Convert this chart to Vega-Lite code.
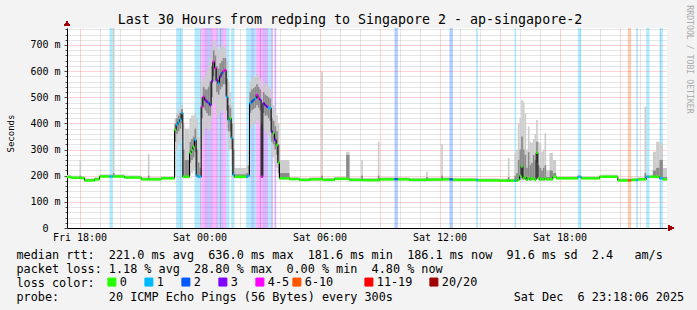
{
  "$schema": "https://vega.github.io/schema/vega-lite/v6.json",
  "width": 600,
  "height": 200,
  "autosize": {"type": "none"},
  "padding": {"left": 67, "top": 28, "right": 30, "bottom": 82},
  "background": "#f3f3f3",
  "config": {
    "view": {"stroke": null, "fill": "white"},
    "font": "DejaVu Sans Mono",
    "axis": {"labelFont": "DejaVu Sans Mono", "labelFontSize": 10, "labelColor": "black", "titleFont": "DejaVu Sans Mono", "titleFontWeight": "normal", "titleColor": "black", "domainColor": "black"}
  },
  "data": {"values": [
    {"t":"2025-12-05T17:20:00Z","t2":"2025-12-05T17:35:00Z","m":195,"lo":192,"hi":203,"q1":194,"q3":198,"L":"0"},
    {"t":"2025-12-05T17:35:00Z","t2":"2025-12-05T18:00:00Z","m":192,"lo":189,"hi":200,"q1":191,"q3":195,"L":"0"},
    {"t":"2025-12-05T18:00:00Z","t2":"2025-12-05T18:05:00Z","m":192,"lo":189,"hi":260,"q1":191,"q3":200,"L":"0"},
    {"t":"2025-12-05T18:05:00Z","t2":"2025-12-05T18:15:00Z","m":191,"lo":188,"hi":199,"q1":190,"q3":194,"L":"0"},
    {"t":"2025-12-05T18:15:00Z","t2":"2025-12-05T18:45:00Z","m":182,"lo":179,"hi":190,"q1":181,"q3":185,"L":"0"},
    {"t":"2025-12-05T18:45:00Z","t2":"2025-12-05T19:00:00Z","m":186,"lo":183,"hi":194,"q1":185,"q3":189,"L":"0"},
    {"t":"2025-12-05T19:00:00Z","t2":"2025-12-05T19:30:00Z","m":197,"lo":194,"hi":205,"q1":196,"q3":200,"L":"0"},
    {"t":"2025-12-05T19:30:00Z","t2":"2025-12-05T19:40:00Z","m":197,"lo":194,"hi":205,"q1":196,"q3":200,"L":"1"},
    {"t":"2025-12-05T19:40:00Z","t2":"2025-12-05T19:45:00Z","m":197,"lo":194,"hi":800,"q1":196,"q3":210,"L":"0"},
    {"t":"2025-12-05T19:45:00Z","t2":"2025-12-05T20:15:00Z","m":197,"lo":194,"hi":205,"q1":196,"q3":200,"L":"0"},
    {"t":"2025-12-05T20:15:00Z","t2":"2025-12-05T21:05:00Z","m":193,"lo":190,"hi":201,"q1":192,"q3":196,"L":"0"},
    {"t":"2025-12-05T21:05:00Z","t2":"2025-12-05T21:25:00Z","m":186,"lo":183,"hi":194,"q1":185,"q3":189,"L":"0"},
    {"t":"2025-12-05T21:25:00Z","t2":"2025-12-05T21:30:00Z","m":186,"lo":183,"hi":283,"q1":185,"q3":200,"L":"0"},
    {"t":"2025-12-05T21:30:00Z","t2":"2025-12-05T22:05:00Z","m":186,"lo":183,"hi":194,"q1":185,"q3":189,"L":"0"},
    {"t":"2025-12-05T22:05:00Z","t2":"2025-12-05T22:45:00Z","m":190,"lo":187,"hi":198,"q1":189,"q3":193,"L":"0"},
    {"t":"2025-12-05T22:45:00Z","t2":"2025-12-05T22:50:00Z","m":375,"lo":200,"hi":420,"q1":330,"q3":400,"L":"0"},
    {"t":"2025-12-05T22:50:00Z","t2":"2025-12-05T22:55:00Z","m":395,"lo":300,"hi":440,"q1":360,"q3":420,"L":"1"},
    {"t":"2025-12-05T22:55:00Z","t2":"2025-12-05T23:00:00Z","m":405,"lo":320,"hi":450,"q1":370,"q3":430,"L":"1"},
    {"t":"2025-12-05T23:00:00Z","t2":"2025-12-05T23:05:00Z","m":415,"lo":330,"hi":460,"q1":380,"q3":440,"L":"1"},
    {"t":"2025-12-05T23:05:00Z","t2":"2025-12-05T23:10:00Z","m":440,"lo":340,"hi":470,"q1":400,"q3":455,"L":"1"},
    {"t":"2025-12-05T23:10:00Z","t2":"2025-12-05T23:15:00Z","m":196,"lo":190,"hi":400,"q1":195,"q3":300,"L":"0"},
    {"t":"2025-12-05T23:15:00Z","t2":"2025-12-05T23:30:00Z","m":196,"lo":190,"hi":380,"q1":194,"q3":260,"L":"0"},
    {"t":"2025-12-05T23:30:00Z","t2":"2025-12-05T23:35:00Z","m":287,"lo":200,"hi":420,"q1":250,"q3":330,"L":"0"},
    {"t":"2025-12-05T23:35:00Z","t2":"2025-12-05T23:40:00Z","m":298,"lo":210,"hi":430,"q1":260,"q3":340,"L":"0"},
    {"t":"2025-12-05T23:40:00Z","t2":"2025-12-05T23:45:00Z","m":311,"lo":220,"hi":430,"q1":270,"q3":350,"L":"0"},
    {"t":"2025-12-05T23:45:00Z","t2":"2025-12-05T23:50:00Z","m":337,"lo":230,"hi":440,"q1":290,"q3":380,"L":"1"},
    {"t":"2025-12-05T23:50:00Z","t2":"2025-12-05T23:55:00Z","m":200,"lo":190,"hi":420,"q1":195,"q3":300,"L":"1"},
    {"t":"2025-12-05T23:55:00Z","t2":"2025-12-06T00:00:00Z","m":196,"lo":190,"hi":350,"q1":194,"q3":250,"L":"1"},
    {"t":"2025-12-06T00:00:00Z","t2":"2025-12-06T00:05:00Z","m":196,"lo":190,"hi":300,"q1":194,"q3":230,"L":"1"},
    {"t":"2025-12-06T00:05:00Z","t2":"2025-12-06T00:10:00Z","m":464,"lo":300,"hi":560,"q1":420,"q3":500,"L":"4-5"},
    {"t":"2025-12-06T00:10:00Z","t2":"2025-12-06T00:15:00Z","m":502,"lo":350,"hi":580,"q1":460,"q3":540,"L":"4-5"},
    {"t":"2025-12-06T00:15:00Z","t2":"2025-12-06T00:20:00Z","m":490,"lo":380,"hi":580,"q1":450,"q3":530,"L":"3"},
    {"t":"2025-12-06T00:20:00Z","t2":"2025-12-06T00:25:00Z","m":483,"lo":380,"hi":600,"q1":440,"q3":530,"L":"3"},
    {"t":"2025-12-06T00:25:00Z","t2":"2025-12-06T00:30:00Z","m":478,"lo":370,"hi":620,"q1":430,"q3":540,"L":"2"},
    {"t":"2025-12-06T00:30:00Z","t2":"2025-12-06T00:35:00Z","m":470,"lo":380,"hi":650,"q1":430,"q3":560,"L":"3"},
    {"t":"2025-12-06T00:35:00Z","t2":"2025-12-06T00:40:00Z","m":560,"lo":420,"hi":690,"q1":500,"q3":620,"L":"3"},
    {"t":"2025-12-06T00:40:00Z","t2":"2025-12-06T00:45:00Z","m":636,"lo":480,"hi":720,"q1":580,"q3":680,"L":"4-5"},
    {"t":"2025-12-06T00:45:00Z","t2":"2025-12-06T00:50:00Z","m":611,"lo":470,"hi":710,"q1":560,"q3":660,"L":"4-5"},
    {"t":"2025-12-06T00:50:00Z","t2":"2025-12-06T00:55:00Z","m":566,"lo":430,"hi":690,"q1":520,"q3":620,"L":"3"},
    {"t":"2025-12-06T00:55:00Z","t2":"2025-12-06T01:00:00Z","m":553,"lo":420,"hi":680,"q1":510,"q3":610,"L":"1"},
    {"t":"2025-12-06T01:00:00Z","t2":"2025-12-06T01:05:00Z","m":580,"lo":440,"hi":690,"q1":530,"q3":630,"L":"3"},
    {"t":"2025-12-06T01:05:00Z","t2":"2025-12-06T01:10:00Z","m":592,"lo":450,"hi":700,"q1":540,"q3":640,"L":"2"},
    {"t":"2025-12-06T01:10:00Z","t2":"2025-12-06T01:15:00Z","m":600,"lo":450,"hi":700,"q1":550,"q3":650,"L":"4-5"},
    {"t":"2025-12-06T01:15:00Z","t2":"2025-12-06T01:20:00Z","m":604,"lo":440,"hi":690,"q1":550,"q3":650,"L":"4-5"},
    {"t":"2025-12-06T01:20:00Z","t2":"2025-12-06T01:25:00Z","m":502,"lo":380,"hi":640,"q1":450,"q3":570,"L":"1"},
    {"t":"2025-12-06T01:25:00Z","t2":"2025-12-06T01:30:00Z","m":413,"lo":300,"hi":560,"q1":370,"q3":470,"L":"1"},
    {"t":"2025-12-06T01:30:00Z","t2":"2025-12-06T01:35:00Z","m":420,"lo":300,"hi":520,"q1":370,"q3":460,"L":"0"},
    {"t":"2025-12-06T01:35:00Z","t2":"2025-12-06T01:40:00Z","m":344,"lo":240,"hi":470,"q1":300,"q3":400,"L":"1"},
    {"t":"2025-12-06T01:40:00Z","t2":"2025-12-06T01:45:00Z","m":203,"lo":190,"hi":400,"q1":197,"q3":300,"L":"1"},
    {"t":"2025-12-06T01:45:00Z","t2":"2025-12-06T02:20:00Z","m":196,"lo":190,"hi":230,"q1":193,"q3":205,"L":"0"},
    {"t":"2025-12-06T02:20:00Z","t2":"2025-12-06T02:25:00Z","m":196,"lo":190,"hi":240,"q1":193,"q3":210,"L":"1"},
    {"t":"2025-12-06T02:25:00Z","t2":"2025-12-06T02:30:00Z","m":200,"lo":190,"hi":300,"q1":195,"q3":240,"L":"1"},
    {"t":"2025-12-06T02:30:00Z","t2":"2025-12-06T02:35:00Z","m":477,"lo":380,"hi":560,"q1":440,"q3":520,"L":"1"},
    {"t":"2025-12-06T02:35:00Z","t2":"2025-12-06T02:40:00Z","m":483,"lo":390,"hi":570,"q1":450,"q3":530,"L":"2"},
    {"t":"2025-12-06T02:40:00Z","t2":"2025-12-06T02:45:00Z","m":490,"lo":400,"hi":580,"q1":455,"q3":535,"L":"2"},
    {"t":"2025-12-06T02:45:00Z","t2":"2025-12-06T02:50:00Z","m":495,"lo":400,"hi":580,"q1":460,"q3":540,"L":"1"},
    {"t":"2025-12-06T02:50:00Z","t2":"2025-12-06T02:55:00Z","m":509,"lo":410,"hi":590,"q1":470,"q3":550,"L":"4-5"},
    {"t":"2025-12-06T02:55:00Z","t2":"2025-12-06T03:00:00Z","m":497,"lo":400,"hi":580,"q1":460,"q3":540,"L":"4-5"},
    {"t":"2025-12-06T03:00:00Z","t2":"2025-12-06T03:05:00Z","m":490,"lo":390,"hi":570,"q1":450,"q3":530,"L":"3"},
    {"t":"2025-12-06T03:05:00Z","t2":"2025-12-06T03:10:00Z","m":196,"lo":190,"hi":500,"q1":195,"q3":400,"L":"4-5"},
    {"t":"2025-12-06T03:10:00Z","t2":"2025-12-06T03:15:00Z","m":477,"lo":380,"hi":560,"q1":440,"q3":520,"L":"3"},
    {"t":"2025-12-06T03:15:00Z","t2":"2025-12-06T03:20:00Z","m":470,"lo":370,"hi":550,"q1":430,"q3":510,"L":"3"},
    {"t":"2025-12-06T03:20:00Z","t2":"2025-12-06T03:25:00Z","m":464,"lo":360,"hi":550,"q1":430,"q3":505,"L":"3"},
    {"t":"2025-12-06T03:25:00Z","t2":"2025-12-06T03:30:00Z","m":459,"lo":350,"hi":540,"q1":420,"q3":500,"L":"1"},
    {"t":"2025-12-06T03:30:00Z","t2":"2025-12-06T03:35:00Z","m":459,"lo":340,"hi":530,"q1":410,"q3":495,"L":"1"},
    {"t":"2025-12-06T03:35:00Z","t2":"2025-12-06T03:40:00Z","m":368,"lo":280,"hi":480,"q1":330,"q3":420,"L":"3"},
    {"t":"2025-12-06T03:40:00Z","t2":"2025-12-06T03:45:00Z","m":363,"lo":270,"hi":470,"q1":320,"q3":410,"L":"0"},
    {"t":"2025-12-06T03:45:00Z","t2":"2025-12-06T03:50:00Z","m":337,"lo":250,"hi":450,"q1":300,"q3":390,"L":"3"},
    {"t":"2025-12-06T03:50:00Z","t2":"2025-12-06T03:55:00Z","m":317,"lo":230,"hi":430,"q1":280,"q3":370,"L":"0"},
    {"t":"2025-12-06T03:55:00Z","t2":"2025-12-06T04:00:00Z","m":250,"lo":190,"hi":400,"q1":210,"q3":320,"L":"0"},
    {"t":"2025-12-06T04:00:00Z","t2":"2025-12-06T04:30:00Z","m":190,"lo":185,"hi":260,"q1":188,"q3":210,"L":"0"},
    {"t":"2025-12-06T04:30:00Z","t2":"2025-12-06T05:00:00Z","m":187,"lo":184,"hi":195,"q1":186,"q3":190,"L":"0"},
    {"t":"2025-12-06T05:00:00Z","t2":"2025-12-06T05:30:00Z","m":184,"lo":181,"hi":192,"q1":183,"q3":187,"L":"0"},
    {"t":"2025-12-06T05:30:00Z","t2":"2025-12-06T06:05:00Z","m":186,"lo":183,"hi":194,"q1":185,"q3":189,"L":"0"},
    {"t":"2025-12-06T06:05:00Z","t2":"2025-12-06T06:10:00Z","m":186,"lo":183,"hi":600,"q1":185,"q3":200,"L":"0"},
    {"t":"2025-12-06T06:10:00Z","t2":"2025-12-06T06:45:00Z","m":184,"lo":181,"hi":192,"q1":183,"q3":187,"L":"0"},
    {"t":"2025-12-06T06:45:00Z","t2":"2025-12-06T07:20:00Z","m":188,"lo":185,"hi":196,"q1":187,"q3":191,"L":"0"},
    {"t":"2025-12-06T07:20:00Z","t2":"2025-12-06T07:30:00Z","m":188,"lo":185,"hi":292,"q1":190,"q3":280,"L":"0"},
    {"t":"2025-12-06T07:30:00Z","t2":"2025-12-06T08:05:00Z","m":184,"lo":181,"hi":192,"q1":183,"q3":187,"L":"0"},
    {"t":"2025-12-06T08:05:00Z","t2":"2025-12-06T08:10:00Z","m":184,"lo":181,"hi":260,"q1":183,"q3":200,"L":"0"},
    {"t":"2025-12-06T08:10:00Z","t2":"2025-12-06T08:55:00Z","m":183,"lo":180,"hi":191,"q1":182,"q3":186,"L":"0"},
    {"t":"2025-12-06T08:55:00Z","t2":"2025-12-06T09:00:00Z","m":183,"lo":180,"hi":330,"q1":182,"q3":200,"L":"0"},
    {"t":"2025-12-06T09:00:00Z","t2":"2025-12-06T09:45:00Z","m":186,"lo":183,"hi":194,"q1":185,"q3":189,"L":"0"},
    {"t":"2025-12-06T09:45:00Z","t2":"2025-12-06T09:55:00Z","m":187,"lo":184,"hi":195,"q1":186,"q3":190,"L":"2"},
    {"t":"2025-12-06T09:55:00Z","t2":"2025-12-06T10:30:00Z","m":186,"lo":183,"hi":194,"q1":185,"q3":189,"L":"0"},
    {"t":"2025-12-06T10:30:00Z","t2":"2025-12-06T11:20:00Z","m":184,"lo":181,"hi":192,"q1":183,"q3":187,"L":"0"},
    {"t":"2025-12-06T11:20:00Z","t2":"2025-12-06T11:25:00Z","m":184,"lo":181,"hi":215,"q1":183,"q3":195,"L":"0"},
    {"t":"2025-12-06T11:25:00Z","t2":"2025-12-06T12:05:00Z","m":185,"lo":182,"hi":193,"q1":184,"q3":188,"L":"0"},
    {"t":"2025-12-06T12:05:00Z","t2":"2025-12-06T12:10:00Z","m":185,"lo":182,"hi":321,"q1":184,"q3":200,"L":"0"},
    {"t":"2025-12-06T12:10:00Z","t2":"2025-12-06T12:30:00Z","m":186,"lo":183,"hi":194,"q1":185,"q3":189,"L":"0"},
    {"t":"2025-12-06T12:30:00Z","t2":"2025-12-06T12:40:00Z","m":186,"lo":183,"hi":194,"q1":185,"q3":189,"L":"2"},
    {"t":"2025-12-06T12:40:00Z","t2":"2025-12-06T13:50:00Z","m":184,"lo":181,"hi":192,"q1":183,"q3":187,"L":"0"},
    {"t":"2025-12-06T13:50:00Z","t2":"2025-12-06T13:55:00Z","m":184,"lo":181,"hi":192,"q1":183,"q3":187,"L":"1"},
    {"t":"2025-12-06T13:55:00Z","t2":"2025-12-06T15:00:00Z","m":182,"lo":179,"hi":190,"q1":181,"q3":185,"L":"0"},
    {"t":"2025-12-06T15:00:00Z","t2":"2025-12-06T15:25:00Z","m":181,"lo":178,"hi":189,"q1":180,"q3":184,"L":"0"},
    {"t":"2025-12-06T15:25:00Z","t2":"2025-12-06T15:30:00Z","m":181,"lo":178,"hi":268,"q1":180,"q3":195,"L":"0"},
    {"t":"2025-12-06T15:30:00Z","t2":"2025-12-06T15:45:00Z","m":181,"lo":178,"hi":189,"q1":180,"q3":184,"L":"0"},
    {"t":"2025-12-06T15:45:00Z","t2":"2025-12-06T15:50:00Z","m":181,"lo":178,"hi":287,"q1":180,"q3":200,"L":"1"},
    {"t":"2025-12-06T15:50:00Z","t2":"2025-12-06T15:55:00Z","m":181,"lo":178,"hi":300,"q1":180,"q3":210,"L":"0"},
    {"t":"2025-12-06T15:55:00Z","t2":"2025-12-06T16:00:00Z","m":185,"lo":180,"hi":401,"q1":183,"q3":260,"L":"0"},
    {"t":"2025-12-06T16:00:00Z","t2":"2025-12-06T16:05:00Z","m":200,"lo":182,"hi":420,"q1":185,"q3":300,"L":"0"},
    {"t":"2025-12-06T16:05:00Z","t2":"2025-12-06T16:10:00Z","m":235,"lo":182,"hi":490,"q1":190,"q3":350,"L":"0"},
    {"t":"2025-12-06T16:10:00Z","t2":"2025-12-06T16:15:00Z","m":190,"lo":182,"hi":483,"q1":186,"q3":300,"L":"0"},
    {"t":"2025-12-06T16:15:00Z","t2":"2025-12-06T16:20:00Z","m":195,"lo":182,"hi":439,"q1":186,"q3":280,"L":"0"},
    {"t":"2025-12-06T16:20:00Z","t2":"2025-12-06T16:25:00Z","m":185,"lo":180,"hi":300,"q1":183,"q3":230,"L":"0"},
    {"t":"2025-12-06T16:25:00Z","t2":"2025-12-06T16:30:00Z","m":190,"lo":182,"hi":388,"q1":186,"q3":290,"L":"0"},
    {"t":"2025-12-06T16:30:00Z","t2":"2025-12-06T16:35:00Z","m":185,"lo":180,"hi":330,"q1":183,"q3":240,"L":"0"},
    {"t":"2025-12-06T16:35:00Z","t2":"2025-12-06T16:40:00Z","m":190,"lo":182,"hi":325,"q1":186,"q3":250,"L":"0"},
    {"t":"2025-12-06T16:40:00Z","t2":"2025-12-06T16:45:00Z","m":188,"lo":182,"hi":340,"q1":186,"q3":280,"L":"0"},
    {"t":"2025-12-06T16:45:00Z","t2":"2025-12-06T16:50:00Z","m":185,"lo":180,"hi":360,"q1":183,"q3":260,"L":"0"},
    {"t":"2025-12-06T16:50:00Z","t2":"2025-12-06T16:55:00Z","m":288,"lo":190,"hi":413,"q1":250,"q3":330,"L":"0"},
    {"t":"2025-12-06T16:55:00Z","t2":"2025-12-06T17:00:00Z","m":190,"lo":182,"hi":330,"q1":186,"q3":240,"L":"0"},
    {"t":"2025-12-06T17:00:00Z","t2":"2025-12-06T17:05:00Z","m":185,"lo":180,"hi":325,"q1":183,"q3":230,"L":"0"},
    {"t":"2025-12-06T17:05:00Z","t2":"2025-12-06T17:10:00Z","m":187,"lo":180,"hi":292,"q1":184,"q3":220,"L":"0"},
    {"t":"2025-12-06T17:10:00Z","t2":"2025-12-06T17:15:00Z","m":186,"lo":180,"hi":300,"q1":184,"q3":230,"L":"0"},
    {"t":"2025-12-06T17:15:00Z","t2":"2025-12-06T17:20:00Z","m":190,"lo":182,"hi":363,"q1":186,"q3":240,"L":"0"},
    {"t":"2025-12-06T17:20:00Z","t2":"2025-12-06T17:30:00Z","m":186,"lo":183,"hi":220,"q1":185,"q3":195,"L":"0"},
    {"t":"2025-12-06T17:30:00Z","t2":"2025-12-06T17:40:00Z","m":186,"lo":183,"hi":287,"q1":185,"q3":220,"L":"0"},
    {"t":"2025-12-06T17:40:00Z","t2":"2025-12-06T17:50:00Z","m":196,"lo":190,"hi":260,"q1":194,"q3":210,"L":"0"},
    {"t":"2025-12-06T17:50:00Z","t2":"2025-12-06T18:55:00Z","m":190,"lo":187,"hi":198,"q1":189,"q3":193,"L":"0"},
    {"t":"2025-12-06T18:55:00Z","t2":"2025-12-06T19:05:00Z","m":196,"lo":193,"hi":204,"q1":195,"q3":199,"L":"1"},
    {"t":"2025-12-06T19:05:00Z","t2":"2025-12-06T20:00:00Z","m":190,"lo":187,"hi":198,"q1":189,"q3":193,"L":"0"},
    {"t":"2025-12-06T20:00:00Z","t2":"2025-12-06T20:55:00Z","m":196,"lo":193,"hi":204,"q1":195,"q3":199,"L":"0"},
    {"t":"2025-12-06T20:55:00Z","t2":"2025-12-06T21:25:00Z","m":182,"lo":179,"hi":190,"q1":181,"q3":185,"L":"0"},
    {"t":"2025-12-06T21:25:00Z","t2":"2025-12-06T21:35:00Z","m":182,"lo":179,"hi":190,"q1":181,"q3":185,"L":"6-10"},
    {"t":"2025-12-06T21:35:00Z","t2":"2025-12-06T21:50:00Z","m":184,"lo":181,"hi":192,"q1":183,"q3":187,"L":"0"},
    {"t":"2025-12-06T21:50:00Z","t2":"2025-12-06T21:55:00Z","m":184,"lo":181,"hi":192,"q1":183,"q3":187,"L":"1"},
    {"t":"2025-12-06T21:55:00Z","t2":"2025-12-06T22:15:00Z","m":186,"lo":183,"hi":194,"q1":185,"q3":189,"L":"0"},
    {"t":"2025-12-06T22:15:00Z","t2":"2025-12-06T22:20:00Z","m":186,"lo":183,"hi":464,"q1":185,"q3":210,"L":"0"},
    {"t":"2025-12-06T22:20:00Z","t2":"2025-12-06T22:30:00Z","m":196,"lo":190,"hi":204,"q1":194,"q3":199,"L":"1"},
    {"t":"2025-12-06T22:30:00Z","t2":"2025-12-06T22:40:00Z","m":196,"lo":193,"hi":204,"q1":195,"q3":199,"L":"0"},
    {"t":"2025-12-06T22:40:00Z","t2":"2025-12-06T22:50:00Z","m":196,"lo":190,"hi":292,"q1":194,"q3":220,"L":"0"},
    {"t":"2025-12-06T22:50:00Z","t2":"2025-12-06T23:00:00Z","m":196,"lo":190,"hi":330,"q1":194,"q3":230,"L":"0"},
    {"t":"2025-12-06T23:00:00Z","t2":"2025-12-06T23:10:00Z","m":190,"lo":185,"hi":325,"q1":188,"q3":260,"L":"1"},
    {"t":"2025-12-06T23:10:00Z","t2":"2025-12-06T23:25:00Z","m":186,"lo":183,"hi":230,"q1":185,"q3":195,"L":"0"}
  ]},
  "layer": [
    {
      "transform": [{"filter": "datum.L != '0'"}],
      "mark": {"type": "rect", "opacity": 0.3, "clip": true},
      "encoding": {
        "x": {"field": "t", "type": "temporal",
          "scale": {"type": "utc", "domain": [{"year": 2025, "month": 12, "date": 5, "hours": 17, "minutes": 22, "seconds": 30, "utc": true}, {"year": 2025, "month": 12, "date": 6, "hours": 23, "minutes": 22, "seconds": 30, "utc": true}], "nice": false},
          "axis": {"orient": "bottom",
            "values": [
              {"year": 2025, "month": 12, "date": 5, "hours": 18, "utc": true},
              {"year": 2025, "month": 12, "date": 5, "hours": 19, "utc": true},
              {"year": 2025, "month": 12, "date": 5, "hours": 20, "utc": true},
              {"year": 2025, "month": 12, "date": 5, "hours": 21, "utc": true},
              {"year": 2025, "month": 12, "date": 5, "hours": 22, "utc": true},
              {"year": 2025, "month": 12, "date": 5, "hours": 23, "utc": true},
              {"year": 2025, "month": 12, "date": 6, "hours": 0, "utc": true},
              {"year": 2025, "month": 12, "date": 6, "hours": 1, "utc": true},
              {"year": 2025, "month": 12, "date": 6, "hours": 2, "utc": true},
              {"year": 2025, "month": 12, "date": 6, "hours": 3, "utc": true},
              {"year": 2025, "month": 12, "date": 6, "hours": 4, "utc": true},
              {"year": 2025, "month": 12, "date": 6, "hours": 5, "utc": true},
              {"year": 2025, "month": 12, "date": 6, "hours": 6, "utc": true},
              {"year": 2025, "month": 12, "date": 6, "hours": 7, "utc": true},
              {"year": 2025, "month": 12, "date": 6, "hours": 8, "utc": true},
              {"year": 2025, "month": 12, "date": 6, "hours": 9, "utc": true},
              {"year": 2025, "month": 12, "date": 6, "hours": 10, "utc": true},
              {"year": 2025, "month": 12, "date": 6, "hours": 11, "utc": true},
              {"year": 2025, "month": 12, "date": 6, "hours": 12, "utc": true},
              {"year": 2025, "month": 12, "date": 6, "hours": 13, "utc": true},
              {"year": 2025, "month": 12, "date": 6, "hours": 14, "utc": true},
              {"year": 2025, "month": 12, "date": 6, "hours": 15, "utc": true},
              {"year": 2025, "month": 12, "date": 6, "hours": 16, "utc": true},
              {"year": 2025, "month": 12, "date": 6, "hours": 17, "utc": true},
              {"year": 2025, "month": 12, "date": 6, "hours": 18, "utc": true},
              {"year": 2025, "month": 12, "date": 6, "hours": 19, "utc": true},
              {"year": 2025, "month": 12, "date": 6, "hours": 20, "utc": true},
              {"year": 2025, "month": 12, "date": 6, "hours": 21, "utc": true},
              {"year": 2025, "month": 12, "date": 6, "hours": 22, "utc": true},
              {"year": 2025, "month": 12, "date": 6, "hours": 23, "utc": true}
            ],
            "labelExpr": "(+utcFormat(datum.value, '%H')) % 6 == 0 ? utcFormat(datum.value, '%a %H:%M') : ''",
            "ticks": false, "tickSize": 0, "labelPadding": 4, "labelFlush": false, "labelOverlap": false,
            "grid": true, "gridDash": [1, 1],
            "gridColor": {"condition": {"test": "(+utcFormat(datum.value, '%H')) % 3 == 0", "value": "#ff0000"}, "value": "#808080"},
            "gridOpacity": {"condition": {"test": "(+utcFormat(datum.value, '%H')) % 3 == 0", "value": 0.35}, "value": 0.4},
            "domain": true, "domainColor": "black", "domainWidth": 1, "zindex": 0,
            "title": ["median rtt:\u00a0\u00a0221.0 ms avg\u00a0\u00a0636.0 ms max\u00a0\u00a0181.6 ms min\u00a0\u00a0186.1 ms now\u00a0\u00a091.6 ms sd\u00a0\u00a02.4\u00a0\u00a0\u00a0am/s", "packet loss: 1.18 % avg\u00a0\u00a028.80 % max\u00a0\u00a00.00 % min\u00a0\u00a04.80 % now", "loss color:", "probe:\u00a0\u00a0\u00a0\u00a0\u00a0\u00a0\u00a020 ICMP Echo Pings (56 Bytes) every 300s\u00a0\u00a0\u00a0\u00a0\u00a0\u00a0\u00a0\u00a0\u00a0\u00a0\u00a0\u00a0\u00a0\u00a0\u00a0\u00a0\u00a0Sat Dec\u00a0\u00a06 23:18:06 2025"],
            "titleX": -51, "titleY": 30.5, "titleAlign": "left", "titleBaseline": "alphabetic", "titleAngle": 0, "titleFontSize": 11.8, "titleLineHeight": 13.9, "titleLimit": 1000}},
        "x2": {"field": "t2"},
        "color": {"field": "L", "type": "nominal",
          "scale": {"domain": ["0", "1", "2", "3", "4-5", "6-10", "11-19", "20/20"], "range": ["#26ff00", "#00b8ff", "#0059ff", "#7e00ff", "#ff00ff", "#ff5500", "#ff0000", "#a10000"]},
          "legend": {"orient": "none", "legendX": 39, "legendY": 248, "direction": "horizontal", "title": null, "symbolType": "square", "symbolSize": 64, "symbolStrokeColor": "black", "symbolStrokeWidth": 1, "symbolOpacity": 1, "labelFont": "DejaVu Sans Mono", "labelFontSize": 11.8, "labelColor": "black", "labelOffset": 2, "columnPadding": 0,
            "labelExpr": "datum.label == '6-10' ? '6-10\u00a0\u00a0\u00a0\u00a0\u200b' : datum.label == '11-19' ? '11-19\u00a0\u00a0\u200b' : (datum.label == '20/20' || datum.label == '4-5') ? datum.label : datum.label + '\u00a0\u00a0\u200b'"}
        }
      }
    },
    {
      "mark": {"type": "rect", "color": "#cccccc", "clip": true},
      "encoding": {
        "x": {"field": "t", "type": "temporal", "axis": {"orient": "top", "labels": false, "ticks": false, "domain": false, "grid": false, "title": "Last 30 Hours from redping to Singapore 2 - ap-singapore-2", "titleX": 282.5, "titleY": -4.5, "titleAlign": "center", "titleBaseline": "alphabetic", "titleAngle": 0, "titleFontSize": 13.3, "titleLimit": 1000}},
        "x2": {"field": "t2"},
        "y": {"field": "lo", "type": "quantitative", "scale": {"domain": [0, 765], "nice": false, "zero": false},
          "axis": {"orient": "left", "values": [0, 20, 40, 60, 80, 100, 120, 140, 160, 180, 200, 220, 240, 260, 280, 300, 320, 340, 360, 380, 400, 420, 440, 460, 480, 500, 520, 540, 560, 580, 600, 620, 640, 660, 680, 700, 720, 740, 760],
            "labelExpr": "datum.value % 100 == 0 ? (datum.value == 0 ? '0\u00a0\u00a0\u200b' : datum.value + '\u00a0m') : ''",
            "tickSize": {"condition": {"test": "datum.value % 100 == 0", "value": 3}, "value": 2},
            "tickColor": "#505050", "labelPadding": 4, "labelFontSize": 10, "labelBaseline": "middle", "labelOverlap": false, "labelFlush": false,
            "grid": true, "gridDash": [1, 1],
            "gridColor": {"condition": {"test": "datum.value % 100 == 0", "value": "#ff0000"}, "value": "#808080"},
            "gridOpacity": {"condition": {"test": "datum.value % 100 == 0", "value": 0.35}, "value": 0.4},
            "domain": true, "domainColor": "black", "zindex": 0,
            "title": "Seconds", "titleX": -56.5, "titleY": 105, "titleAngle": -90, "titleAlign": "center", "titleBaseline": "middle", "titleFontSize": 9}},
        "y2": {"field": "hi"}
      }
    },
    {
      "mark": {"type": "rect", "color": "#8a8a8a", "clip": true},
      "encoding": {
        "x": {"field": "t", "type": "temporal", "axis": null},
        "x2": {"field": "t2"},
        "y": {"field": "q1", "type": "quantitative", "axis": {"orient": "right", "labels": false, "ticks": false, "domain": false, "grid": false, "title": "RRDTOOL / TOBI OETIKER", "titleAngle": 90, "titleX": 21.5, "titleY": 31, "titleAlign": "center", "titleBaseline": "middle", "titleFontSize": 8.2, "titleColor": "#aaaaaa"}},
        "y2": {"field": "q3"}
      }
    },
    {
      "mark": {"type": "line", "interpolate": "step-after", "color": "black", "strokeWidth": 1, "clip": true},
      "encoding": {
        "x": {"field": "t", "type": "temporal", "axis": null},
        "y": {"field": "m", "type": "quantitative", "axis": null}
      }
    },
    {
      "mark": {"type": "rule", "strokeWidth": 2.5, "clip": true},
      "encoding": {
        "x": {"field": "t", "type": "temporal", "axis": null},
        "x2": {"field": "t2"},
        "y": {"field": "m", "type": "quantitative", "axis": null},
        "stroke": {"field": "L", "type": "nominal", "legend": null,
          "scale": {"domain": ["0", "1", "2", "3", "4-5", "6-10", "11-19", "20/20"], "range": ["#26ff00", "#00b8ff", "#0059ff", "#7e00ff", "#ff00ff", "#ff5500", "#ff0000", "#a10000"]}}
      }
    },
    {
      "mark": {"type": "point", "shape": "triangle-up", "filled": true, "color": "#a00000", "size": 30, "opacity": 1},
      "encoding": {
        "x": {"datum": 1764955350000, "type": "temporal", "axis": null},
        "y": {"datum": 782, "type": "quantitative", "axis": null}
      }
    },
    {
      "mark": {"type": "point", "shape": "triangle-right", "filled": true, "color": "#a00000", "size": 30, "opacity": 1},
      "encoding": {
        "x": {"datum": 1765064070000, "type": "temporal", "axis": null},
        "y": {"datum": 0, "type": "quantitative", "axis": null}
      }
    }
  ],
  "resolve": {"axis": {"x": "independent", "y": "independent"}}
}
